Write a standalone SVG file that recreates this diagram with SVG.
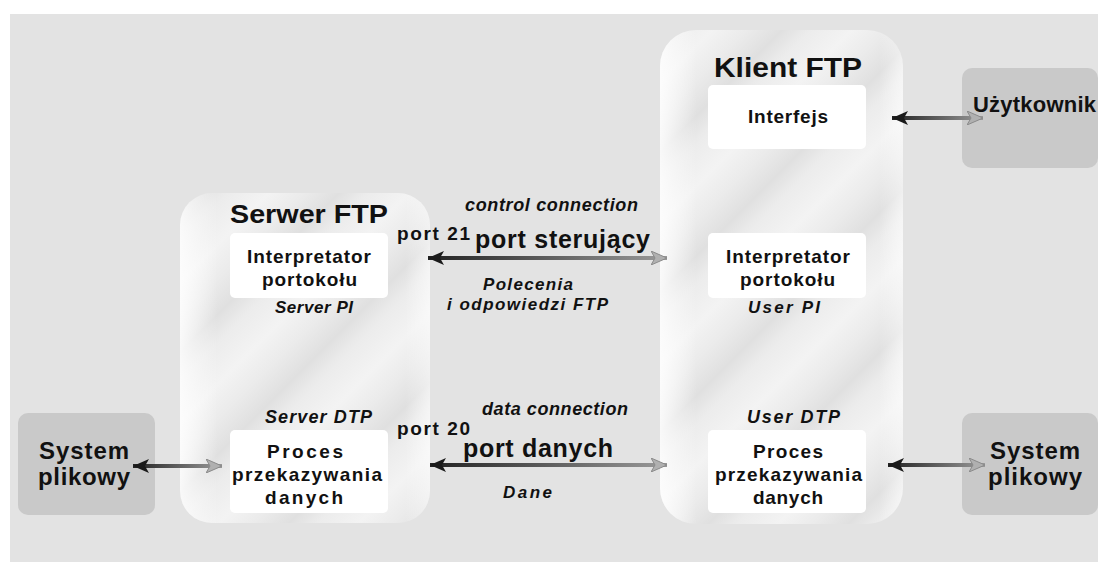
<svg xmlns="http://www.w3.org/2000/svg" width="1098" height="562" viewBox="0 0 1098 562">
<defs>
<style>
.t{font-family:"Liberation Sans",Arial,sans-serif;font-weight:bold;fill:#111;}
.i{font-family:"Liberation Sans",Arial,sans-serif;font-weight:bold;font-style:italic;fill:#111;}
.box{fill:#fff;}
.gray{fill:#c9c9c9;}
.cont{stroke:none;}
.shaft{fill:none;stroke-width:4;}
</style>
<linearGradient id="stripe" gradientUnits="userSpaceOnUse" x1="0" y1="0" x2="70" y2="70" spreadMethod="repeat">
<stop offset="0" stop-color="#ececec"/>
<stop offset="0.3" stop-color="#f3f3f3"/>
<stop offset="0.55" stop-color="#ebebeb"/>
<stop offset="0.8" stop-color="#e0e0e0"/>
<stop offset="1" stop-color="#ececec"/>
</linearGradient>
<linearGradient id="glossL" x1="0" y1="0" x2="1" y2="0">
<stop offset="0" stop-color="#fff" stop-opacity="0.8"/>
<stop offset="0.15" stop-color="#fff" stop-opacity="0"/>
<stop offset="0.9" stop-color="#fff" stop-opacity="0"/>
<stop offset="1" stop-color="#fff" stop-opacity="0.5"/>
</linearGradient>
<linearGradient id="g1" gradientUnits="userSpaceOnUse" x1="892" y1="0" x2="983" y2="0"><stop offset="0" stop-color="#222"/><stop offset="1" stop-color="#9a9a9a"/></linearGradient>
<linearGradient id="g2" gradientUnits="userSpaceOnUse" x1="428" y1="0" x2="667" y2="0"><stop offset="0" stop-color="#222"/><stop offset="1" stop-color="#9a9a9a"/></linearGradient>
<linearGradient id="g3" gradientUnits="userSpaceOnUse" x1="133" y1="0" x2="222" y2="0"><stop offset="0" stop-color="#222"/><stop offset="1" stop-color="#9a9a9a"/></linearGradient>
<linearGradient id="g4" gradientUnits="userSpaceOnUse" x1="430" y1="0" x2="667" y2="0"><stop offset="0" stop-color="#222"/><stop offset="1" stop-color="#9a9a9a"/></linearGradient>
<linearGradient id="g5" gradientUnits="userSpaceOnUse" x1="888" y1="0" x2="985" y2="0"><stop offset="0" stop-color="#222"/><stop offset="1" stop-color="#9a9a9a"/></linearGradient>
<marker id="hd" markerUnits="userSpaceOnUse" markerWidth="18" markerHeight="14" refX="16" refY="7" orient="auto-start-reverse">
<path d="M0,0 L16,7 L0,14 L4,7 Z" fill="#1a1a1a"/>
</marker>
<marker id="hl" markerUnits="userSpaceOnUse" markerWidth="18" markerHeight="14" refX="16" refY="7" orient="auto">
<path d="M0,0 L16,7 L0,14 L4,7 Z" fill="#b0b0b0" stroke="#8a8a8a" stroke-width="1"/>
</marker>
</defs>
<rect x="10" y="14" width="1088" height="548" fill="#e3e3e3"/>

<g id="serwer-ftp">
<rect class="cont" x="180" y="193" width="250" height="330" rx="32" fill="url(#stripe)"/>
<rect class="cont" x="180" y="193" width="250" height="330" rx="32" fill="url(#glossL)"/>
<text class="t" x="230" y="223" font-size="26" textLength="158" lengthAdjust="spacingAndGlyphs">Serwer FTP</text>
</g>
<g id="klient-ftp">
<rect class="cont" x="660" y="30" width="243" height="494" rx="36" fill="url(#stripe)"/>
<rect class="cont" x="660" y="30" width="243" height="494" rx="36" fill="url(#glossL)"/>
<text class="t" x="714" y="77" font-size="27" textLength="148" lengthAdjust="spacingAndGlyphs">Klient FTP</text>
</g>

<g id="server-pi">
<rect class="box" x="230" y="233" width="158" height="65" rx="5"/>
<text class="t" x="247" y="263" font-size="19" textLength="124">Interpretator</text>
<text class="t" x="262" y="286" font-size="19" textLength="95">portokołu</text>
<text class="i" x="275" y="313" font-size="17" textLength="78">Server PI</text>
</g>
<g id="server-dtp">
<text class="i" x="265" y="423" font-size="18" textLength="107">Server DTP</text>
<rect class="box" x="230" y="430" width="158" height="83" rx="5"/>
<text class="t" x="267" y="458" font-size="19" textLength="76">Proces</text>
<text class="t" x="232" y="481" font-size="19" textLength="150">przekazywania</text>
<text class="t" x="265" y="504" font-size="19" textLength="78">danych</text>
</g>
<g id="interfejs">
<rect class="box" x="708" y="85" width="158" height="64" rx="5"/>
<text class="t" x="748" y="123" font-size="19" textLength="80">Interfejs</text>
</g>
<g id="user-pi">
<rect class="box" x="708" y="233" width="158" height="65" rx="5"/>
<text class="t" x="726" y="263" font-size="19" textLength="124">Interpretator</text>
<text class="t" x="740" y="286" font-size="19" textLength="95">portokołu</text>
<text class="i" x="748" y="313" font-size="17" textLength="72">User PI</text>
</g>
<g id="user-dtp">
<text class="i" x="747" y="423" font-size="18" textLength="93">User DTP</text>
<rect class="box" x="708" y="430" width="158" height="83" rx="5"/>
<text class="t" x="753" y="458" font-size="19" textLength="70">Proces</text>
<text class="t" x="715" y="481" font-size="19" textLength="147">przekazywania</text>
<text class="t" x="753" y="504" font-size="19" textLength="70">danych</text>
</g>
<g id="uzytkownik">
<rect class="gray" x="962" y="68" width="136" height="100" rx="10"/>
<text class="t" x="973" y="112" font-size="22" textLength="123">Użytkownik</text>
</g>
<g id="system-lewy">
<rect class="gray" x="18" y="413" width="137" height="102" rx="10"/>
<text class="t" x="39" y="459" font-size="24" textLength="90">System</text>
<text class="t" x="38" y="485" font-size="24" textLength="92">plikowy</text>
</g>
<g id="system-prawy">
<rect class="gray" x="962" y="413" width="136" height="102" rx="10"/>
<text class="t" x="990" y="459" font-size="24" textLength="90">System</text>
<text class="t" x="988" y="485" font-size="24" textLength="94">plikowy</text>
</g>

<g id="connectors">
<path class="shaft" d="M892,118 L983,118" stroke="url(#g1)" marker-start="url(#hd)" marker-end="url(#hl)"/>
<path class="shaft" d="M428,258 L667,258" stroke="url(#g2)" marker-start="url(#hd)" marker-end="url(#hl)"/>
<path class="shaft" d="M133,466 L222,466" stroke="url(#g3)" marker-start="url(#hd)" marker-end="url(#hl)"/>
<path class="shaft" d="M430,465 L667,465" stroke="url(#g4)" marker-start="url(#hd)" marker-end="url(#hl)"/>
<path class="shaft" d="M888,465 L985,465" stroke="url(#g5)" marker-start="url(#hd)" marker-end="url(#hl)"/>
</g>

<g id="labels">
<text class="i" x="465" y="211" font-size="18" textLength="173">control connection</text>
<text class="t" x="397" y="240" font-size="19" textLength="73">port 21</text>
<text class="t" x="475" y="248" font-size="25" textLength="175">port sterujący</text>
<text class="i" x="483" y="290" font-size="17" textLength="90">Polecenia</text>
<text class="i" x="447" y="310" font-size="17" textLength="161">i odpowiedzi FTP</text>
<text class="i" x="482" y="415" font-size="18" textLength="146">data connection</text>
<text class="t" x="397" y="435" font-size="19" textLength="73">port 20</text>
<text class="t" x="463" y="457" font-size="25" textLength="150">port danych</text>
<text class="i" x="503" y="498" font-size="17" textLength="49">Dane</text>
</g>
</svg>
